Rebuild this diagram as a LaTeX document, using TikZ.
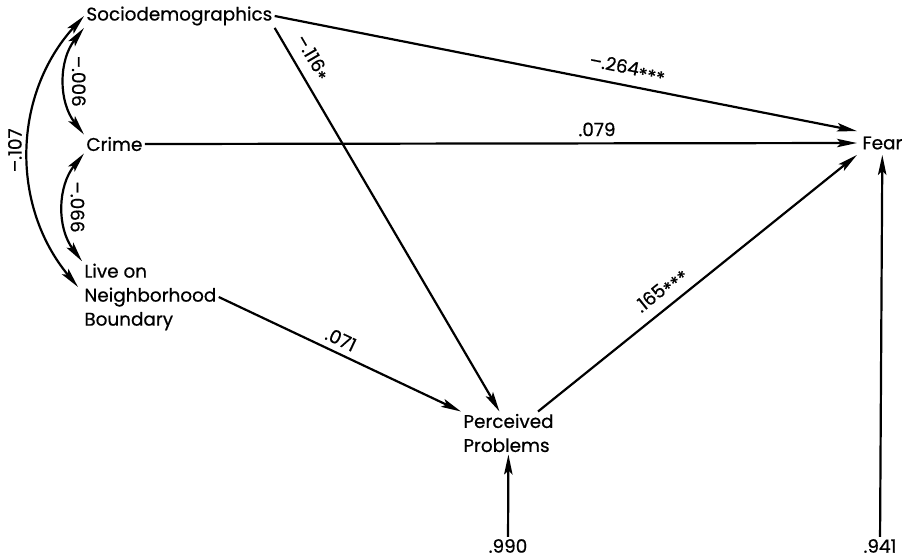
\documentclass[tikz,border=0pt]{standalone}
\usepackage{fontspec}
\setmainfont{Poppins}[FakeBold=0.6]
\usetikzlibrary{arrows.meta}
\newcommand{\sigstar}{\raisebox{-0.45ex}{*}}

\begin{document}
\begin{tikzpicture}[
  x=0.5pt, y=-0.5pt, >={Stealth[length=10pt,width=4.2pt,inset=2pt]},
  var/.style={inner sep=1pt, align=left, font=\fontsize{9.2}{12}\selectfont},
  coef/.style={sloped, above, inner sep=3pt, font=\fontsize{9.2}{11}\selectfont},
  rcoef/.style={rotate=-90, anchor=south, inner sep=3pt, font=\fontsize{9.2}{11}\selectfont},
  lcoef/.style={rotate=90, anchor=south, inner sep=3pt, font=\fontsize{9.2}{11}\selectfont},
  link/.style={->, line width=1.1pt},
  corr/.style={<->, line width=1.1pt},
]
  \useasboundingbox (0,0) rectangle (912,559);
  % variables
  \node[var, anchor=west] (socio) at (84,16) {Sociodemographics};
  \node[var, anchor=west] (crime) at (84,144) {Crime};
  \node[var, anchor=west] (live) at (82,297) {Live on\\Neighborhood\\Boundary};
  \node[var, anchor=west] (perc) at (461,433) {Perceived\\Problems};
  \node[var, anchor=west, inner sep=2.5pt] (fear) at (857,143) {Fear};
  % residuals
  \node[var] (e1) at (508,546) {.990};
  \node[var] (e2) at (880,546) {.941};
  % paths
  \draw[link] (socio.east) -- (fear.north west) node[coef, pos=0.6] {--.264\sigstar\sigstar\sigstar};
  \draw[link] (socio.south east) -- ([shift={(-9,0)}]perc.north) node[coef, pos=0.1] {--.116\sigstar};
  \draw[link] (crime.east) -- (fear.west) node[coef, pos=0.635] {.079};
  \draw[link] (live.east) -- (perc.north west) node[coef, pos=0.48] {.071};
  \draw[link] ([shift={(-18,0)}]perc.north east) -- (fear.south west) node[coef, pos=0.42] {.165\sigstar\sigstar\sigstar};
  \draw[link] (e1) -- (perc);
  \draw[link] (e2) -- (fear);
  % correlations
  \draw[corr] (socio.south west) to[bend right=38] node[rcoef, midway] {--.006} (crime.north west);
  \draw[corr] (crime.south west) to[bend right=38] node[rcoef, midway] {--.066} (live.north west);
  \draw[corr] ([shift={(-4,-10)}]live.west) to[bend left=41] node[lcoef, midway] {--.107} (socio.west);
\end{tikzpicture}
\end{document}
